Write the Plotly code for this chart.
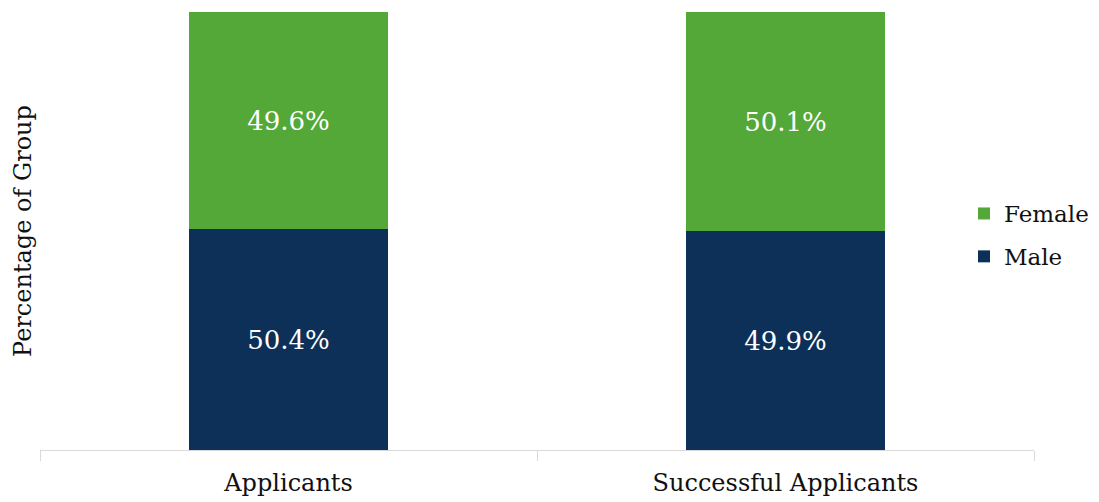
import plotly.graph_objects as go

categories = ["Applicants", "Successful Applicants"]
male = [50.4, 49.9]
female = [49.6, 50.1]

FONT = "DejaVu Serif"
W, H = 1099, 502
L, R, T, B = 40, 65, 12, 52

fig = go.Figure()
fig.add_trace(go.Bar(
    x=categories, y=male, name="Male", marker_color="#0D3059",
    marker_line_width=0,
    text=[f"{v:.1f}%" for v in male], textposition="inside",
    insidetextanchor="middle", textfont=dict(color="white", size=26, family=FONT),
    legendgroup="m", legendrank=2,
))
fig.add_trace(go.Bar(
    x=categories, y=female, name="Female", marker_color="#53A838",
    marker_line_width=0,
    text=[f"{v:.1f}%" for v in female], textposition="inside",
    insidetextanchor="middle", textfont=dict(color="white", size=26, family=FONT),
    legendgroup="f", legendrank=1,
))

fig.update_layout(
    width=W, height=H,
    margin=dict(l=L, r=R, t=T, b=B, autoexpand=False),
    barmode="stack", bargap=0.6,
    plot_bgcolor="white", paper_bgcolor="white",
    font=dict(family=FONT, size=24, color="#111111"),
    showlegend=True,
    legend=dict(
        x=(964 - L) / (W - L - R), xanchor="left",
        y=(H - B - 235) / (H - T - B), yanchor="middle",
        traceorder="grouped", tracegroupgap=10,
        font=dict(family=FONT, size=23, color="#111111"),
        bgcolor="rgba(0,0,0,0)",
    ),
    uniformtext=dict(mode=False),
)
fig.update_xaxes(
    showline=True, linecolor="#d9d9d9", linewidth=1,
    ticks="outside", tickson="boundaries", ticklen=10, tickcolor="#d9d9d9",
    tickfont=dict(family=FONT, size=24, color="#111111"),
    ticklabelstandoff=11,
    showgrid=False,
)
fig.update_yaxes(
    range=[0, 100], showticklabels=False, showgrid=False, zeroline=False,
    showline=False,
    title=dict(text="Percentage of Group", font=dict(family=FONT, size=24, color="#111111"), standoff=0),
)

fig.write_html("out.html")
